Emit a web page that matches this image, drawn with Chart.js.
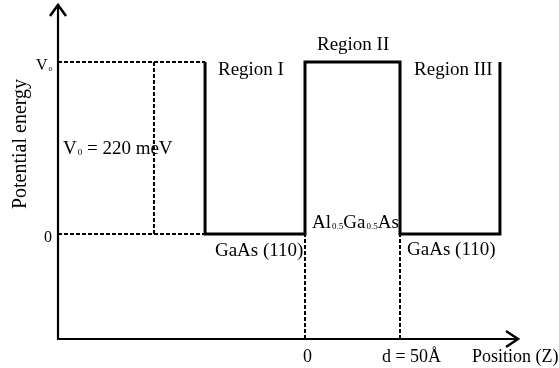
<!DOCTYPE html>
<html>
<head>
  <title>Potential well GaAs / AlGaAs</title>
  <script src="https://cdn.jsdelivr.net/npm/chart.js"></script>
  <style>
    body { margin: 0; background: #fff; }
    #wrap { width: 559px; height: 368px; position: relative; }
  </style>
</head>
<body>
<div id="wrap"><canvas id="wellChart"></canvas></div>

<script>
  // position in Å, potential in meV
  const profileZ = [-52.6, -52.6, 0, 0, 50, 50, 102.6, 102.6];
  const profileV = [220, 0, 0, 220, 220, 0, 0, 220];

  // dashed guide lines, one pair per segment
  const guideZ = [[-130, -52.6], [-130, -52.6], [-79.5, -79.5], [0, 0], [50, 50]];
  const guideV = [[220, 220], [0, 0], [0, 220], [-134.3, 0], [-134.3, 0]];

  const xRange = [-130, 112.1];
  const yRange = [-134.3, 292.9];

  const SERIF = '"Liberation Serif", "Times New Roman", serif';

  // labels, anchored in data units; runs with sub:true are subscripts
  const labels = [
    { z: -45.8, v: 203, size: 19, runs: [{ t: 'Region I' }] },
    { z: 6.3, v: 235, size: 19, runs: [{ t: 'Region II' }] },
    { z: 57.4, v: 203, size: 19, runs: [{ t: 'Region III' }] },
    { z: -127.4, v: 102, size: 19, runs: [{ t: 'V' }, { t: '0', sub: true }, { t: ' = 220 meV' }] },
    { z: -47.4, v: -28, size: 19, runs: [{ t: 'GaAs (110)' }] },
    { z: 53.7, v: -27, size: 19, runs: [{ t: 'GaAs (110)' }] },
    { z: 3.7, v: 8, size: 19, runs: [{ t: 'Al' }, { t: '0.5', sub: true }, { t: 'Ga' }, { t: '0.5', sub: true }, { t: 'As' }] },
    { z: 40.5, v: -164, size: 18, runs: [{ t: 'd = 50Å' }] },
    { z: 87.9, v: -164, size: 18, runs: [{ t: 'Position (Z)' }] }
  ];
  const xTicks = [{ z: 0, text: '0' }];
  const yTicks = [{ v: 220, runs: [{ t: 'V' }, { t: '0', sub: true }] }, { v: 0, runs: [{ t: '0' }] }];

  function runsWidth(ctx, runs, size) {
    let w = 0;
    runs.forEach(r => {
      ctx.font = (r.sub ? Math.round(size * 0.45) : size) + 'px ' + SERIF;
      w += ctx.measureText(r.t).width + (r.sub ? 1 : 0);
    });
    return w;
  }

  function drawRuns(ctx, runs, x, y, size) {
    let cx = x;
    runs.forEach(r => {
      ctx.font = (r.sub ? Math.round(size * 0.45) : size) + 'px ' + SERIF;
      if (r.sub) cx += 1;
      ctx.fillText(r.t, cx, y + (r.sub ? 1 : 0));
      cx += ctx.measureText(r.t).width;
    });
  }

  const diagramPlugin = {
    id: 'diagram',
    afterDraw(chart) {
      const ctx = chart.ctx;
      const area = chart.chartArea;
      const xs = chart.scales.x, ys = chart.scales.y;
      ctx.save();
      ctx.strokeStyle = '#000';
      ctx.fillStyle = '#000';

      // axes with open arrow heads
      ctx.lineWidth = 2.2;
      ctx.beginPath();
      ctx.moveTo(area.left, area.top + 1);
      ctx.lineTo(area.left, area.bottom);
      ctx.lineTo(area.right - 1, area.bottom);
      ctx.stroke();
      ctx.lineWidth = 2.5;
      ctx.beginPath();
      ctx.moveTo(area.left - 8, area.top + 11);
      ctx.lineTo(area.left, area.top);
      ctx.lineTo(area.left + 8, area.top + 11);
      ctx.moveTo(area.right - 12, area.bottom - 8);
      ctx.lineTo(area.right, area.bottom);
      ctx.lineTo(area.right - 12, area.bottom + 8);
      ctx.stroke();

      ctx.textBaseline = 'alphabetic';
      ctx.textAlign = 'left';

      // y ticks
      yTicks.forEach(t => {
        const w = runsWidth(ctx, t.runs, 16);
        drawRuns(ctx, t.runs, area.left - 6 - w, ys.getPixelForValue(t.v) + 8, 16);
      });
      // x ticks
      xTicks.forEach(t => {
        ctx.font = '18px ' + SERIF;
        ctx.textAlign = 'center';
        ctx.fillText(t.text, xs.getPixelForValue(t.z) + 2.5, area.bottom + 23);
        ctx.textAlign = 'left';
      });

      labels.forEach(l => {
        drawRuns(ctx, l.runs, xs.getPixelForValue(l.z), ys.getPixelForValue(l.v), l.size);
      });

      // y axis title
      ctx.save();
      ctx.translate(26, 144);
      ctx.rotate(-Math.PI / 2);
      ctx.textAlign = 'center';
      ctx.font = '20px ' + SERIF;
      ctx.fillText('Potential energy', 0, 0);
      ctx.restore();

      ctx.restore();
    }
  };

  const datasets = [{
    label: 'Potential',
    data: profileZ.map((z, i) => ({ x: z, y: profileV[i] })),
    showLine: true,
    borderColor: '#000',
    borderWidth: 3,
    borderJoinStyle: 'miter',
    pointRadius: 0,
    tension: 0
  }];
  guideZ.forEach((seg, i) => {
    datasets.push({
      label: 'guide' + i,
      data: seg.map((z, j) => ({ x: z, y: guideV[i][j] })),
      showLine: true,
      borderColor: '#000',
      borderWidth: 2,
      borderDash: [4, 2],
      pointRadius: 0
    });
  });

  new Chart(document.getElementById('wellChart'), {
    type: 'scatter',
    data: { datasets },
    options: {
      responsive: true,
      maintainAspectRatio: false,
      animation: false,
      layout: { padding: { left: 58, right: 41, top: 5, bottom: 29 } },
      plugins: { legend: { display: false }, tooltip: { enabled: false } },
      scales: {
        x: { type: 'linear', min: xRange[0], max: xRange[1], display: false },
        y: { type: 'linear', min: yRange[0], max: yRange[1], display: false }
      }
    },
    plugins: [diagramPlugin]
  });
</script>
</body>
</html>
